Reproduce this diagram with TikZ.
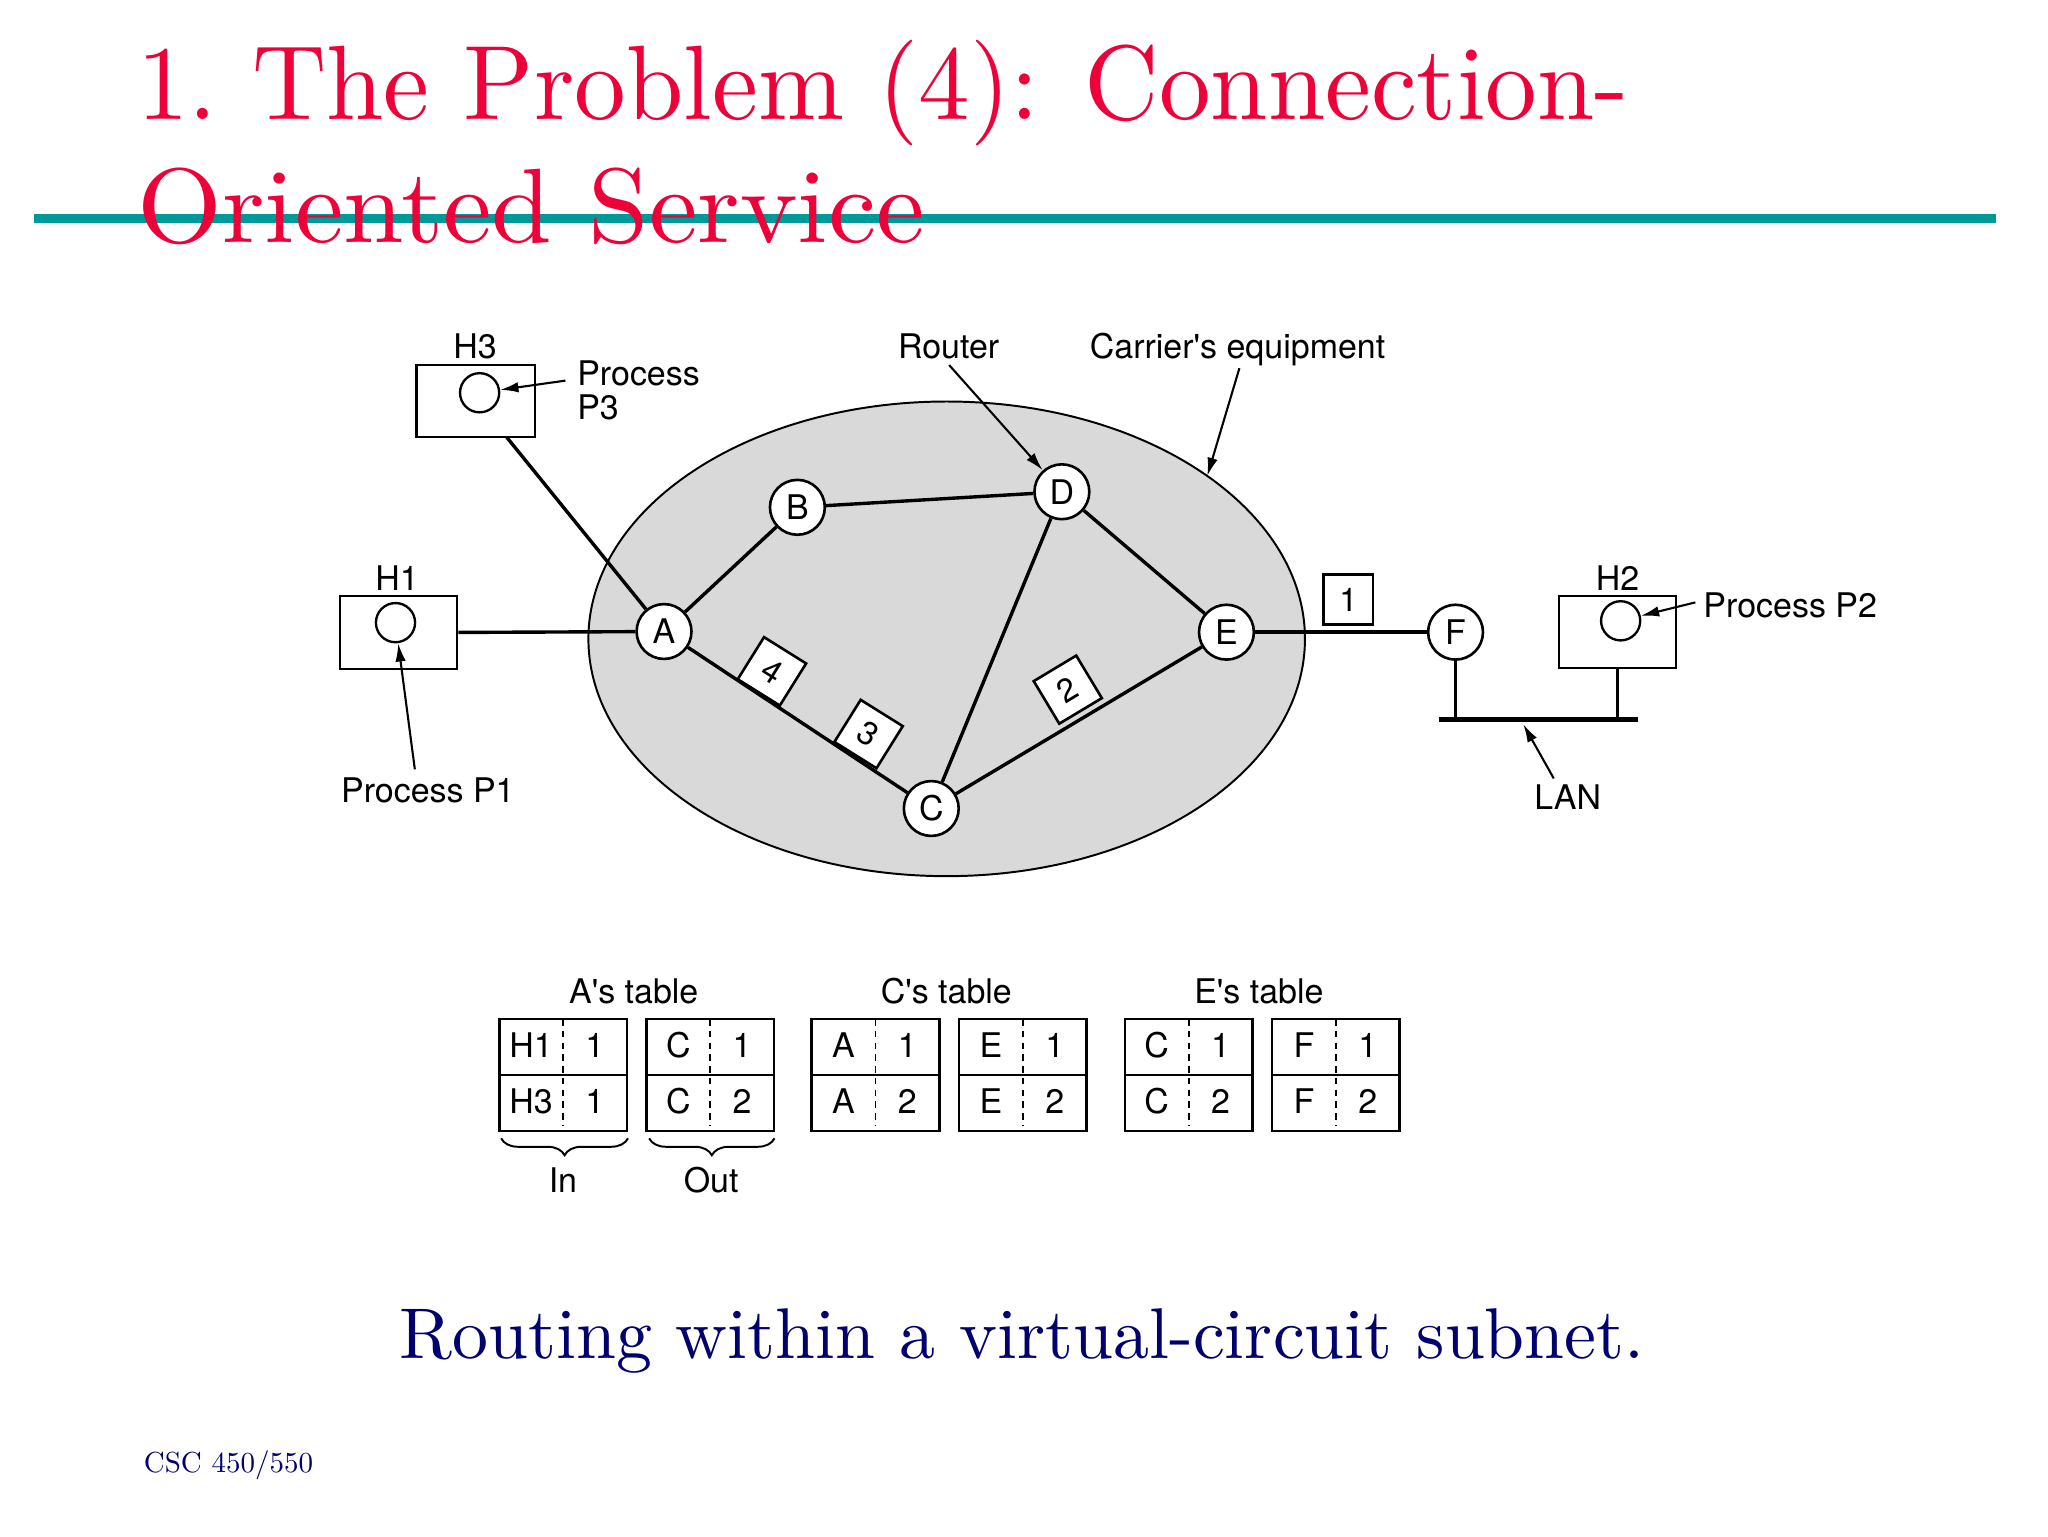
\documentclass[tikz,border=0pt]{standalone}
\usepackage{fontspec}
\usetikzlibrary{arrows.meta,shapes.geometric,decorations.pathreplacing}
\newfontfamily\hv{TeX Gyre Heros}
\newfontfamily\lmten{lmroman10-regular}[Extension=.otf]
\definecolor{titlered}{RGB}{238,0,56}
\definecolor{tealbar}{RGB}{0,153,153}
\definecolor{navycap}{RGB}{0,0,110}
\definecolor{netgray}{RGB}{217,217,217}
\begin{document}
\begin{tikzpicture}[x=1pt,y=-1pt,
  lbl/.style={font=\hv\fontsize{26}{30}\selectfont, inner sep=0pt, text height=18.7pt, text depth=0pt},
  tcell/.style={font=\hv\fontsize{26}{30}\selectfont, inner sep=0pt, text height=18.7pt, text depth=0pt},
  router/.style={circle, draw, line width=2pt, fill=white, minimum size=42pt, inner sep=0pt,
                 font=\hv\fontsize{26}{30}\selectfont},
  host/.style={draw, line width=1.8pt, fill=white, minimum width=90pt, minimum height=55pt, inner sep=0pt},
  proc/.style={circle, draw, line width=1.8pt, minimum size=30pt, inner sep=0pt},
  link/.style={line width=2.6pt},
  stem/.style={line width=2.4pt},
  arr/.style={line width=1.6pt, -{Latex[length=14pt,width=8pt]}},
  pkt/.style={draw, line width=2pt, fill=white, minimum size=38pt, inner sep=0pt,
              font=\hv\fontsize{25}{30}\selectfont},
  tbl/.style={line width=2pt},
  divider/.style={line width=1.4pt, dash pattern=on 5pt off 4pt},
  bracestyle/.style={line width=1.5pt, decorate, decoration={brace, mirror, amplitude=13pt}},
  titletext/.style={anchor=base west, inner sep=0pt, text=titlered, font=\lmten\fontsize{81}{92}\selectfont}
]
\fill[white] (0,0) rectangle (1568,1176);
\useasboundingbox (0,0) rectangle (1568,1176);

% ---- title ----
\fill[tealbar] (26,163.9) rectangle (1528,170.5);
\node[titletext] (title1) at (105,91.5) {\scalebox{0.975}[1]{1.\ The Problem (4): Connection-}};
\node[titletext] (title2) at (105,185.8) {\scalebox{1.03}[1]{Oriented Service}};

% ---- carrier network ----
\node[ellipse, draw, line width=1.5pt, fill=netgray, minimum width=548.6pt, minimum height=363.4pt,
      inner sep=0pt, outer sep=0pt] (net) at (724.8,489.1) {};

\node[router] (A) at (508.4,483.5) {A};
\node[router] (B) at (610.5,388.4) {B};
\node[router] (D) at (813,376.5) {D};
\node[router] (E) at (939,484) {E};
\node[router] (C) at (713,619) {C};
\node[router] (F) at (1114.4,484) {F};

% hosts
\node[host, minimum width=89.8pt, minimum height=55.5pt] (H1) at (305.1,484.2) {};
\node[host, minimum width=90.6pt, minimum height=55.2pt] (H3) at (364.1,307.2) {};
\node[host, minimum width=89.8pt, minimum height=55.4pt] (H2) at (1238.4,483.9) {};
\node[proc] (p1) at (302.8,476.7) {};
\node[proc] (p3) at (367.2,300.7) {};
\node[proc] (p2) at (1240.8,475.3) {};
\coordinate (h3foot) at (388,334.8);

% links
\draw[link] (A) -- (B);
\draw[link] (B) -- (D);
\draw[link] (D) -- (E);
\draw[link] (D) -- (C);
\draw[link] (A) -- (C);
\draw[link] (C) -- (E);
\draw[link] (H1.east) -- (A);
\draw[link] (h3foot) -- (A);
\draw[link] (E) -- (F);

% LAN
\coordinate (lanL) at (1101.7,550.8);
\coordinate (lanR) at (1254,550.8);
\draw[line width=3.5pt] (lanL) -- (lanR);
\draw[stem] (F.south) -- (F.south |- lanL);
\draw[stem] (H2.south) -- (H2.south |- lanL);

% packets
\node[pkt] (k1) at (1032.3,459) {1};
\node[pkt, rotate=-32] (k4) at (591,514) {4};
\node[pkt, rotate=-32] (k3) at (665,562) {3};
\node[pkt, rotate=31] (k2) at (817.5,528) {2};

% labels
\node[lbl] (lH3) at (363.7,265.5) {H3};
\node[lbl] (lH1) at (304,442.4) {H1};
\node[lbl] (lH2) at (1238.4,443) {H2};
\node[lbl, anchor=west] (lP3a) at (441.8,285.5) {Process};
\node[lbl, anchor=west] (lP3b) at (441.8,311.9) {P3};
\node[lbl, anchor=west] (lP1) at (261,604.7) {Process P1};
\node[lbl, anchor=west] (lP2) at (1304,463.2) {Process P2};
\node[lbl] (lRouter) at (726.3,265) {Router};
\node[lbl] (lCarrier) at (947.5,264.9) {Carrier's equipment};
\node[lbl] (lLAN) at (1200.3,610.6) {LAN};

% arrows
\coordinate (aP3) at (432.9,291.4);
\coordinate (aP1) at (317.6,589);
\coordinate (aP2) at (1298,461.2);
\coordinate (aRouter) at (726.7,279.5);
\coordinate (aCarrier) at (948.9,281.9);
\coordinate (aLAN) at (1189.6,596);
\coordinate (lanHit) at (1166.2,554.4);
\draw[arr] (aP3) -- (p3);
\draw[arr] (aP1) -- (p1);
\draw[arr] (aP2) -- (p2);
\draw[arr] (aRouter) -- (D);
\draw[arr] (aCarrier) -- (net.32);
\draw[arr] (aLAN) -- (lanHit);

% ---- tables ----
\node[lbl] (tA) at (485.2,759.3) {A's table};
\node[lbl] (tC) at (724.5,759.3) {C's table};
\node[lbl] (tE) at (963.8,759.3) {E's table};
\foreach \x/\a/\b/\c/\d [count=\i] in {382.2/H1/1/H3/1, 495/C/1/C/2, 621.4/A/1/A/2,
                                        734.3/E/1/E/2, 861.2/C/1/C/2, 974/F/1/F/2}{
  \draw[tbl] (\x,780.3) rectangle ++(97.7,85.7);
  \draw[tbl] (\x,823.1) -- ++(97.7,0);
  \draw[divider] ({\x+48.85},780.3) -- ({\x+48.85},862);
  \node[tcell] (c\i a) at ({\x+24.4},800.5) {\a};
  \node[tcell] (c\i b) at ({\x+73.2},800.5) {\b};
  \node[tcell] (c\i c) at ({\x+24.4},843.5) {\c};
  \node[tcell] (c\i d) at ({\x+73.2},843.5) {\d};
}
\draw[bracestyle] (383.7,871.5) -- (480.8,871.5);
\draw[bracestyle] (497,871.5) -- (593,871.5);
\node[lbl] (lIn) at (431,903.5) {In};
\node[lbl] (lOut) at (544.5,903.5) {Out};

% ---- caption and footer ----
\node[anchor=base, inner sep=0pt, text=navycap, font=\lmten\fontsize{55}{60}\selectfont]
  (caption) at (782.5,1040) {Routing within a virtual-circuit subnet.};
\node[anchor=base west, inner sep=0pt, text=navycap, font=\lmten\fontsize{22.2}{26}\selectfont]
  (footer) at (110,1127) {CSC 450/550};
\end{tikzpicture}
\end{document}
